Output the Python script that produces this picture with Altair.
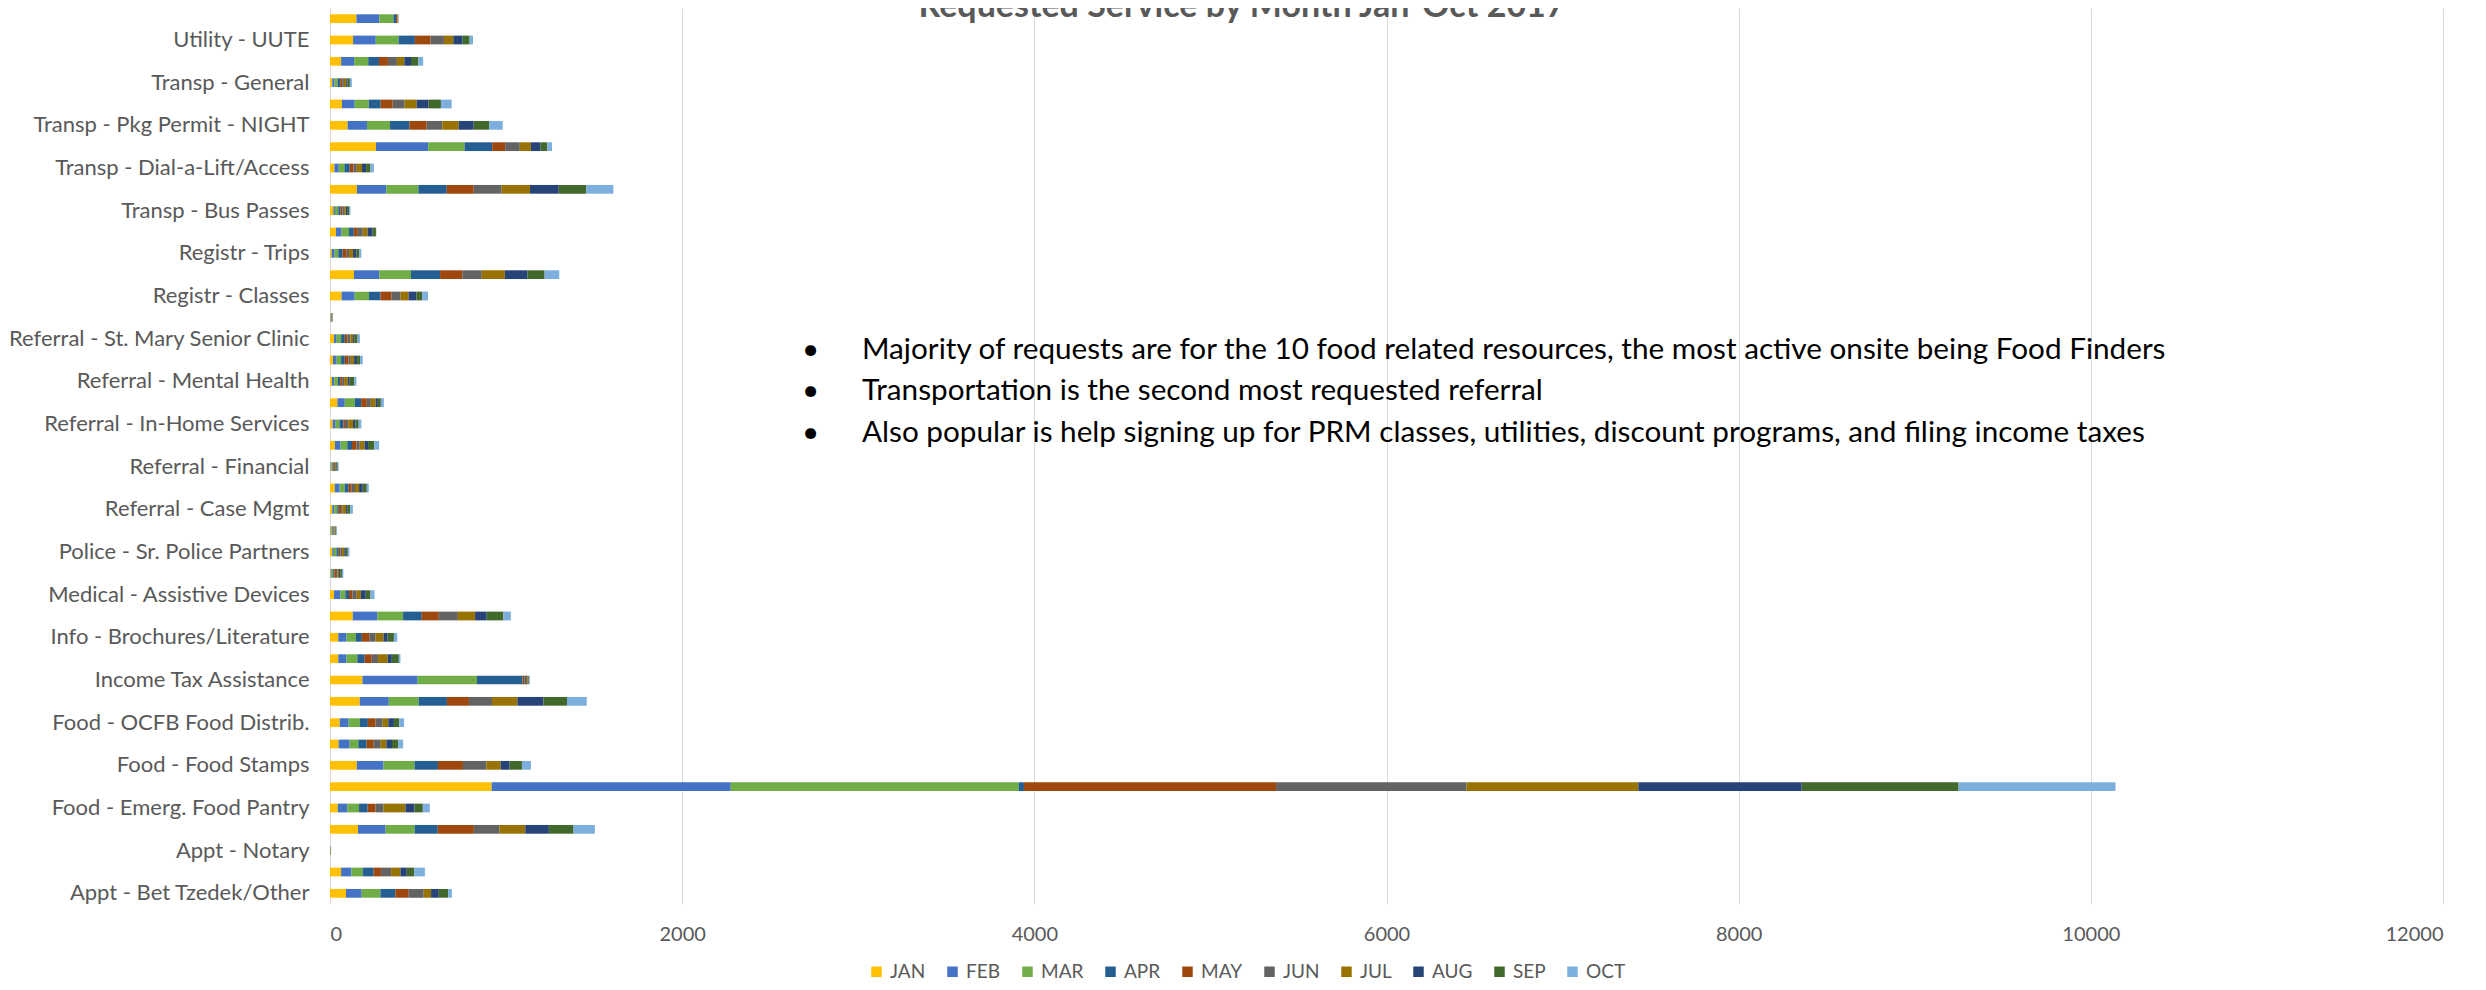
import json
import altair as alt
import pandas as pd

# Categories, top to bottom as drawn (every other one is labelled on the axis)
services = [
    "Utility - Water", "Utility - UUTE", "Transp - Senior Shuttle", "Transp - General",
    "Transp - Pkg Permit - Renewal", "Transp - Pkg Permit - NIGHT", "Transp - Pkg Permit - DAY",
    "Transp - Dial-a-Lift/Access", "Transp - Cab Vouchers", "Transp - Bus Passes",
    "Transp - Airport", "Registr - Trips", "Registr - Membership", "Registr - Classes",
    "Referral - Veterans", "Referral - St. Mary Senior Clinic", "Referral - Other",
    "Referral - Mental Health", "Referral - Legal", "Referral - In-Home Services",
    "Referral - Housing", "Referral - Financial", "Referral - Caregiver", "Referral - Case Mgmt",
    "Referral - Adult Day Care", "Police - Sr. Police Partners", "Medical - Loan Closet",
    "Medical - Assistive Devices", "Info - General", "Info - Brochures/Literature",
    "Info - Benefits", "Income Tax Assistance", "Food - Senior Lunch", "Food - OCFB Food Distrib.",
    "Food - Meals on Wheels", "Food - Food Stamps", "Food - Food Finders",
    "Food - Emerg. Food Pantry", "Food - Brown Bag", "Appt - Notary", "Appt - HICAP",
    "Appt - Bet Tzedek/Other",
]
shown_labels = [
    "Utility - UUTE", "Transp - General", "Transp - Pkg Permit - NIGHT",
    "Transp - Dial-a-Lift/Access", "Transp - Bus Passes", "Registr - Trips", "Registr - Classes",
    "Referral - St. Mary Senior Clinic", "Referral - Mental Health", "Referral - In-Home Services",
    "Referral - Financial", "Referral - Case Mgmt", "Police - Sr. Police Partners",
    "Medical - Assistive Devices", "Info - Brochures/Literature", "Income Tax Assistance",
    "Food - OCFB Food Distrib.", "Food - Food Stamps", "Food - Emerg. Food Pantry",
    "Appt - Notary", "Appt - Bet Tzedek/Other",
]
months = ["JAN", "FEB", "MAR", "APR", "MAY", "JUN", "JUL", "AUG", "SEP", "OCT"]
colors = ["#FFC000", "#4472C4", "#70AD47", "#255E91", "#9E480E",
          "#636363", "#997300", "#264478", "#43682B", "#7CAFDD"]

jan = [150, 131, 63, 13, 68, 100, 261, 25, 153, 19, 34, 9, 136, 66, 2, 23, 17, 11, 42, 15, 28,
       3, 27, 13, 4, 13, 4, 23, 129, 47, 47, 184, 169, 55, 49, 152, 918, 44, 159, 2, 63, 91]
feb = [130, 129, 74, 13, 72, 110, 297, 25, 167, 9, 32, 17, 144, 74, 2, 15, 21, 13, 42, 17, 32,
       5, 28, 11, 4, 9, 6, 36, 140, 47, 47, 314, 165, 51, 63, 152, 1358, 55, 157, 1, 59, 89]
mar = [80, 129, 80, 17, 80, 131, 206, 32, 182, 19, 42, 21, 180, 81, 2, 25, 25, 21, 57, 21, 38,
       6, 28, 17, 5, 15, 8, 28, 146, 53, 61, 337, 169, 64, 49, 176, 1635, 66, 165, 1, 63, 106]
apr = [15, 93, 61, 15, 68, 110, 157, 30, 161, 13, 27, 25, 165, 66, 2, 21, 21, 13, 36, 23, 27,
       4, 23, 9, 3, 13, 7, 21, 106, 34, 42, 259, 161, 45, 47, 133, 30, 49, 131, 1, 63, 85]
may = [6, 89, 51, 11, 68, 98, 74, 21, 153, 11, 23, 23, 127, 63, 2, 15, 21, 11, 32, 9, 25,
       5, 17, 13, 4, 9, 9, 19, 97, 42, 40, 9, 125, 44, 40, 142, 1432, 45, 205, 1, 42, 76]
jun = [3, 76, 51, 10, 68, 89, 83, 19, 159, 9, 28, 13, 110, 51, 2, 17, 13, 11, 23, 19, 19,
       6, 19, 9, 5, 9, 8, 25, 108, 36, 36, 17, 131, 40, 40, 133, 1082, 45, 146, 0, 57, 85]
jul = [2, 53, 42, 13, 68, 93, 63, 30, 161, 9, 28, 23, 131, 45, 2, 15, 19, 21, 27, 27, 28,
       5, 23, 19, 4, 13, 9, 23, 98, 45, 55, 8, 144, 32, 32, 81, 975, 125, 146, 0, 53, 42]
aug = [1, 53, 38, 8, 68, 85, 55, 23, 163, 8, 28, 19, 129, 45, 1, 9, 17, 11, 13, 13, 19,
       4, 21, 9, 3, 9, 8, 28, 66, 23, 23, 2, 148, 32, 32, 51, 928, 51, 134, 0, 36, 44]
sep = [1, 40, 42, 13, 70, 89, 38, 25, 157, 11, 19, 17, 97, 32, 1, 17, 17, 25, 17, 19, 36,
       6, 23, 15, 4, 11, 9, 27, 95, 36, 40, 2, 134, 30, 36, 70, 891, 47, 140, 0, 42, 53]
oct_ = [1, 19, 27, 11, 61, 76, 27, 19, 153, 8, 2, 11, 83, 34, 1, 13, 15, 13, 17, 15, 27,
        5, 11, 15, 4, 9, 8, 23, 42, 19, 9, 4, 112, 28, 27, 51, 891, 40, 121, 0, 61, 21]

x_ticks = [0, 2000, 4000, 6000, 8000, 10000, 12000]
title_text = "Requested Service by Month Jan-Oct 2017"
notes = [
    "Majority of requests are for the 10 food related resources, the most active onsite being Food Finders",
    "Transportation is the second most requested referral",
    "Also popular is help signing up for PRM classes, utilities, discount programs, and filing income taxes",
]

series = [jan, feb, mar, apr, may, jun, jul, aug, sep, oct_]
rows = []
for mi, (m, vals) in enumerate(zip(months, series)):
    for s, v in zip(services, vals):
        rows.append({"service": s, "month": m, "morder": mi, "value": v})
df = pd.DataFrame(rows)

FONT = "Lato"
GRAY = "#595959"
label_expr = "indexof(" + json.dumps(shown_labels) + ", datum.value) >= 0 ? datum.value : ''"

bars = alt.Chart(df).mark_bar().encode(
    x=alt.X("value:Q", stack="zero",
            scale=alt.Scale(domain=[0, 12000], nice=False),
            axis=alt.Axis(values=x_ticks, title=None, grid=True, gridColor="#D9D9D9",
                          gridWidth=1, domain=False, ticks=False, labelFontSize=20,
                          labelColor=GRAY, labelFont=FONT, labelPadding=20, format="d")),
    y=alt.Y("service:N", sort=services,
            scale=alt.Scale(paddingInner=0.59, paddingOuter=0.295),
            axis=alt.Axis(title=None, labelExpr=label_expr, ticks=False, domain=False,
                          labelFontSize=22, labelColor=GRAY, labelFont=FONT,
                          labelPadding=21, labelLimit=500, labelOverlap=False)),
    color=alt.Color("month:N", scale=alt.Scale(domain=months, range=colors),
                    legend=alt.Legend(title=None, orient="none", legendX=537, legendY=954,
                                      direction="horizontal", columns=10, symbolType="square",
                                      symbolSize=110, symbolStrokeWidth=0, labelFontSize=19,
                                      labelColor=GRAY, labelFont=FONT, columnPadding=17,
                                      labelOffset=4, padding=0)),
    order=alt.Order("morder:Q", sort="ascending"),
)

title = alt.Chart(pd.DataFrame({"t": [title_text]})).mark_text(
    font=FONT, fontSize=34, fontWeight="bold", color=GRAY, align="center", baseline="alphabetic"
).encode(text="t:N", x=alt.value(912), y=alt.value(9))

layers = [bars, title]
note_y = [342, 383, 425]
for line, yy in zip(notes, note_y):
    d = pd.DataFrame({"t": [line], "b": ["\u2022"]})
    layers.append(alt.Chart(d).mark_text(font=FONT, fontSize=29.7, color="#000000", align="left",
                                         baseline="middle").encode(text="b:N", x=alt.value(472), y=alt.value(yy)))
    layers.append(alt.Chart(d).mark_text(font=FONT, fontSize=29.7, color="#000000", align="left",
                                         baseline="middle").encode(text="t:N", x=alt.value(532), y=alt.value(yy)))

chart = alt.layer(*layers).properties(
    width=2113, height=896,
    autosize=alt.AutoSizeParams(type="none"),
    padding={"left": 322, "top": 0, "right": 35, "bottom": 78},
).configure_view(stroke=None)

chart.save("out.html", embed_options={"renderer": "svg", "actions": False})
